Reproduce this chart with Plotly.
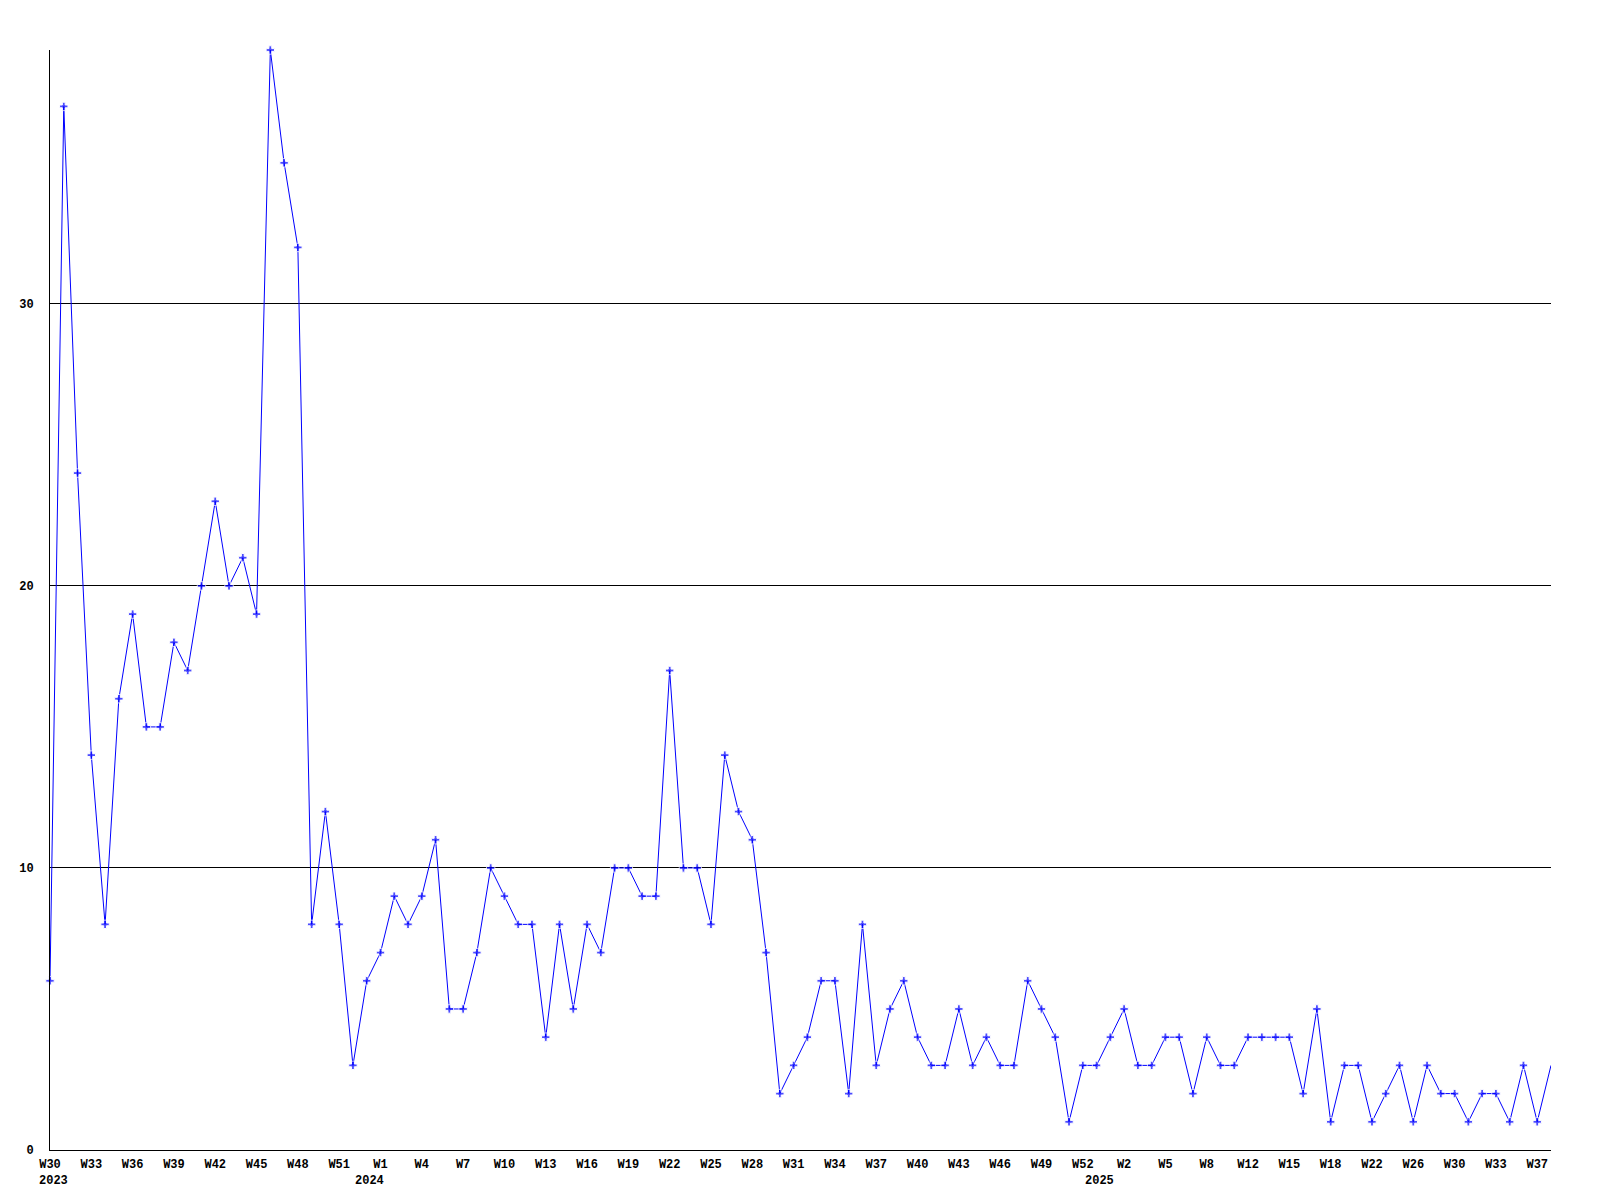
import plotly.graph_objects as go

# weekly counts, W30 2023 .. W38 2025
counts = [
    6, 37, 24, 14, 8, 16, 19, 15, 15, 18,
    17, 20, 23, 20, 21, 19, 39, 35, 32, 8,
    12, 8, 3, 6, 7, 9, 8, 9, 11, 5,
    5, 7, 10, 9, 8, 8, 4, 8, 5, 8,
    7, 10, 10, 9, 9, 17, 10, 10, 8, 14,
    12, 11, 7, 2, 3, 4, 6, 6, 2, 8,
    3, 5, 6, 4, 3, 3, 5, 3, 4, 3,
    3, 6, 5, 4, 1, 3, 3, 4, 5, 3,
    3, 4, 4, 2, 4, 3, 3, 4, 4, 4,
    4, 2, 5, 1, 3, 3, 1, 2, 3, 1,
    3, 2, 2, 1, 2, 2, 1, 3, 1, 3,
]

week_ticks = [
    "W30", "W33", "W36", "W39", "W42", "W45", "W48", "W51",
    "W1", "W4", "W7", "W10", "W13", "W16", "W19", "W22", "W25", "W28",
    "W31", "W34", "W37", "W40", "W43", "W46", "W49", "W52",
    "W2", "W5", "W8", "W12", "W15", "W18", "W22", "W26", "W30", "W33", "W37",
]
years = ["2023", "2024", "2025"]
year_start = [0, 23, 76]

y_ticks = [0, 10, 20, 30]

TICK_STEP = 3
FONT = dict(family="Liberation Mono, DejaVu Sans Mono, monospace", size=12,
            color="black", weight=700)

x = list(range(len(counts)))
sizes = [7] * (len(counts) - 1) + [0]

fig = go.Figure()
fig.add_trace(go.Scatter(
    x=x, y=counts,
    mode="lines+markers",
    line=dict(color="#0000ff", width=1),
    marker=dict(symbol="cross", size=sizes, color="#0000ff"),
    cliponaxis=False,
    hoverinfo="skip",
))

for label, idx in zip(years, year_start):
    fig.add_annotation(
        x=idx, y=0, xref="x", yref="paper",
        text=label, showarrow=False,
        yanchor="top", yshift=-22, xshift=3,
        font=FONT,
    )

# the page body adds 8px of its own on top and left
fig.update_layout(
    width=1600, height=1200,
    margin=dict(l=42, r=57, t=42, b=58),
    plot_bgcolor="white", paper_bgcolor="white",
    showlegend=False,
    font=FONT,
)
fig.update_xaxes(
    range=[0, len(counts) - 1],
    tickvals=x[::TICK_STEP][:len(week_ticks)],
    ticktext=week_ticks,
    showgrid=False, zeroline=False,
    showline=True, linecolor="black", linewidth=1,
    ticks="", ticklabelstandoff=3,
    tickfont=FONT, automargin=False,
)
fig.update_yaxes(
    range=[0, 39],
    tickvals=y_ticks,
    showgrid=True, gridcolor="black", gridwidth=1,
    zeroline=False,
    showline=True, linecolor="black", linewidth=1,
    ticks="", ticklabelstandoff=13,
    tickfont=FONT, automargin=False,
)

fig.write_html("out.html")
